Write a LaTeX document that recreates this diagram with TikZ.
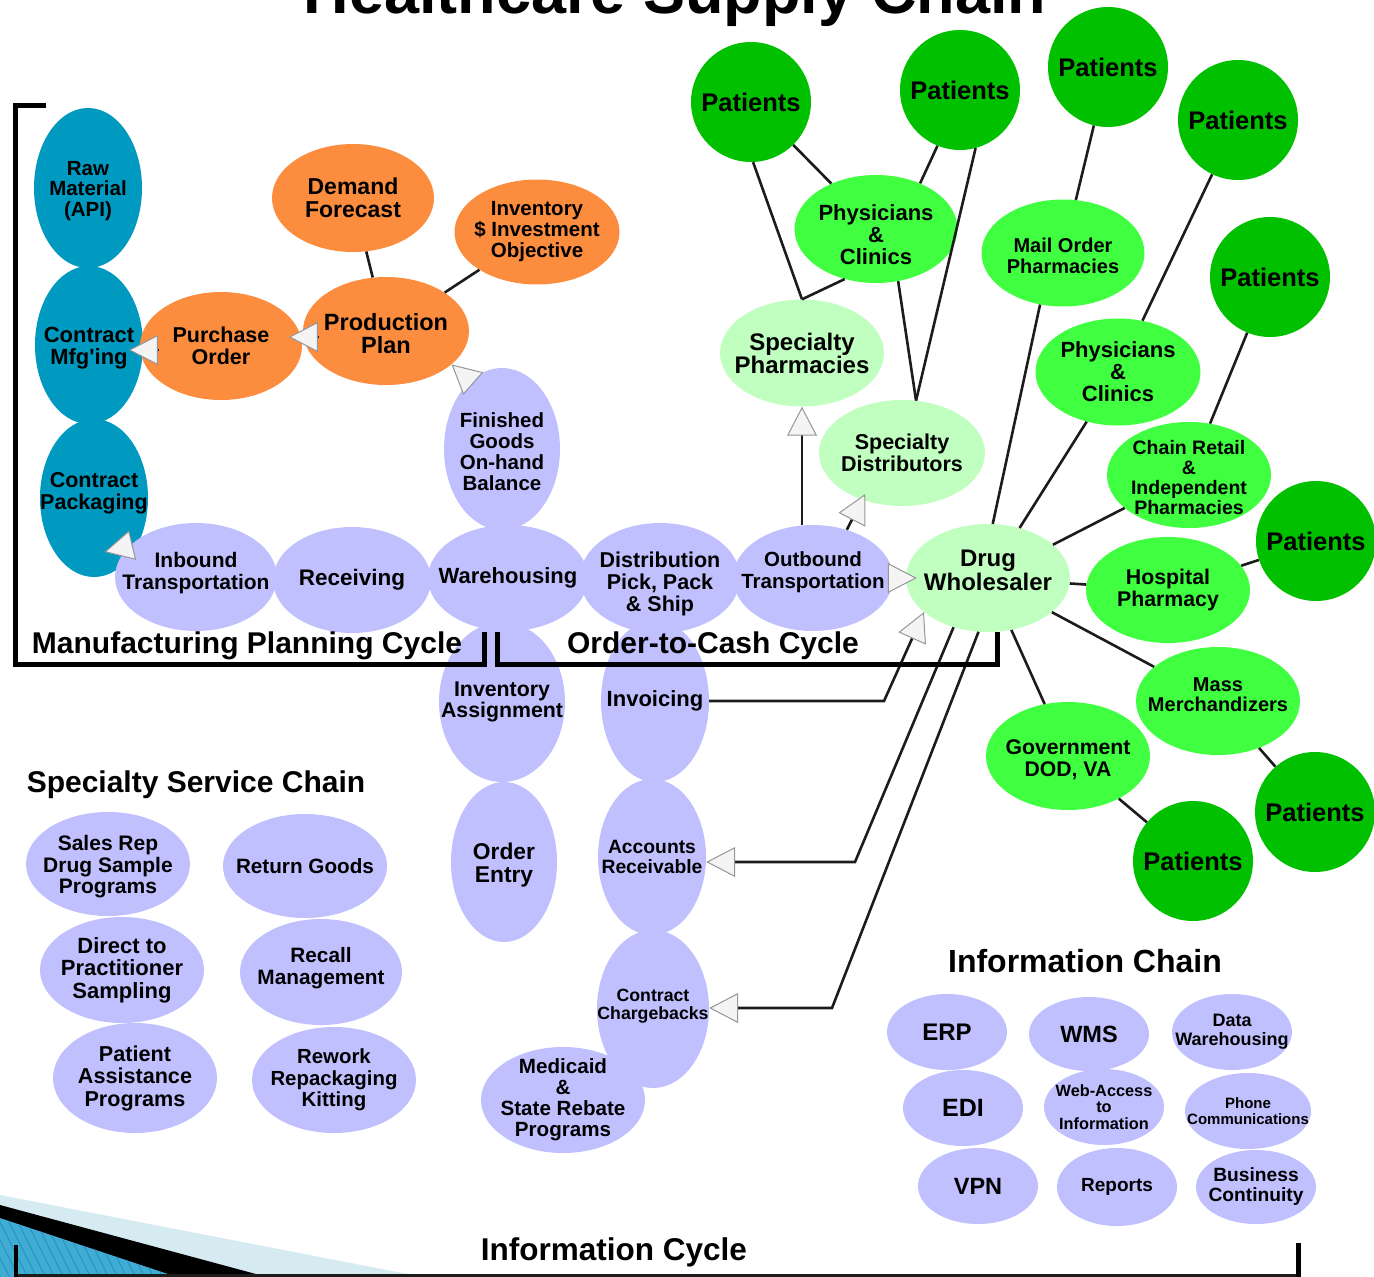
\documentclass[tikz,border=0pt]{standalone}
\usepackage{fontspec}
\setmainfont{Liberation Sans}
\usetikzlibrary{arrows.meta}
\usetikzlibrary{shapes.geometric}

\definecolor{mfgblue}{RGB}{0,153,192}
\definecolor{planorange}{RGB}{252,140,62}
\definecolor{proclav}{RGB}{192,192,255}
\definecolor{outletlight}{RGB}{192,255,192}
\definecolor{custgreen}{RGB}{64,255,64}
\definecolor{patgreen}{RGB}{0,192,0}
\definecolor{inkgray}{RGB}{28,28,28}
\definecolor{tipwhite}{RGB}{244,244,244}
\definecolor{tipgray}{RGB}{150,150,150}
\definecolor{slidepale}{RGB}{214,234,242}
\definecolor{slideblue}{RGB}{64,172,212}
\definecolor{slidestripe}{RGB}{40,148,194}

\newcommand{\fsz}[2]{\fontsize{#1}{#2}\selectfont\bfseries}

\tikzset{
  every label/.append style={align=center, inner sep=0pt, text=black},
  blob/.style={ellipse, inner sep=0pt, draw=none},
  dims/.style 2 args={minimum width=#1, minimum height=#2},
  % txt={lift}{font size}{line skip}{text}
  txt/.style n args={4}{label={[font=\fsz{#2}{#3}, yshift=#1]center:{#4}}},
  mfg/.style={blob, fill=mfgblue},
  plan/.style={blob, fill=planorange},
  proc/.style={blob, fill=proclav},
  outlet/.style={blob, fill=outletlight},
  cust/.style={blob, fill=custgreen},
  patient/.style={blob, fill=patgreen, dims={120}{120}, txt={0}{25.5}{26}{Patients}},
  link/.style={line width=2.6pt, draw=inkgray},
  feed/.style={link, -{Triangle[length=29pt, width=30pt, fill=tipwhite, color=tipgray, line width=1pt]}},
  bracket/.style={line width=5pt, draw=black, line join=miter},
  heading/.style={font=\fsz{30}{30}, inner sep=0pt, anchor=base}
}

\begin{document}
\begin{tikzpicture}[x=1pt, y=-1pt]
\useasboundingbox (0,0) rectangle (1374,1277);
\clip (0,0) rectangle (1374,1277);

% title, cut off at the top edge
\node[font=\fsz{63}{63}, inner sep=0pt, anchor=base] (title) at (675,13) {Healthcare Supply Chain};

% manufacturing
\node[mfg, dims={108}{160}, txt={-3}{20.5}{20.5}{Raw\\Material\\(API)}] (raw) at (88,188) {};
\node[mfg, dims={108}{158}, txt={-3}{22}{22}{Contract\\Mfg\textquotesingle ing}] (cmfg) at (89,345) {};
\node[mfg, dims={108}{158}, txt={5}{21.5}{22}{Contract\\Packaging}] (cpack) at (94,498) {};

% planning
\node[plan, dims={162}{108}, txt={0}{23}{23}{Demand\\Forecast}] (fcst) at (353,198) {};
\node[plan, dims={165}{105}, txt={0}{20.5}{21}{Inventory\\\$ Investment\\Objective}] (invobj) at (537,232) {};
\node[plan, dims={166}{108}, txt={-3}{23.5}{23}{Production\\Plan}] (prod) at (386,331) {};
\node[plan, dims={162}{108}, txt={0}{21.5}{22}{Purchase\\Order}] (po) at (221,346) {};

% product flow
\node[proc, dims={116}{162}, txt={-3}{20.5}{21}{Finished\\Goods\\On-hand\\Balance}] (fgb) at (502,449) {};
\node[proc, dims={162}{108}, txt={4}{21}{22}{Inbound\\Transportation}] (inbound) at (196,577) {};
\node[proc, dims={158}{106}, txt={0}{22.5}{22}{Receiving}] (recv) at (352,580) {};
\node[proc, dims={160}{106}, txt={0}{22}{22}{Warehousing}] (whs) at (508,578) {};
\node[proc, dims={160}{110}, txt={-6}{21.5}{22}{Distribution\\Pick, Pack\\\& Ship}] (dist) at (660,578) {};
\node[proc, dims={160}{106}, txt={6}{20.5}{22}{Outbound\\Transportation}] (outbound) at (813,578) {};
\node[proc, dims={126}{160}, txt={0}{21.3}{21}{Inventory\\Assignment}] (invasg) at (502,702) {};
\node[proc, dims={106}{160}, txt={-3}{22.8}{23}{Order\\Entry}] (oentry) at (504,862) {};
\node[proc, dims={108}{162}, txt={0}{22}{22}{Invoicing}] (invc) at (655,701) {};
\node[proc, dims={108}{156}, txt={0}{19.3}{20}{Accounts\\Receivable}] (ar) at (652,857) {};
\node[proc, dims={112}{158}, txt={3}{17.7}{18}{Contract\\Chargebacks}] (chgb) at (653,1009) {};
\node[proc, dims={164}{106}, txt={0}{20.6}{21}{Medicaid\\\&\\State Rebate\\Programs}] (medic) at (563,1100) {};

% specialty service chain
\node[proc, dims={164}{104}, txt={-3}{21}{21.5}{Sales Rep\\Drug Sample\\Programs}] (srep) at (108,864) {};
\node[proc, dims={164}{104}, txt={0}{20.7}{21}{Return Goods}] (retg) at (305,866) {};
\node[proc, dims={164}{106}, txt={0}{22}{22.5}{Direct to\\Practitioner\\Sampling}] (dtp) at (122,970) {};
\node[proc, dims={162}{106}, txt={4}{20.8}{22}{Recall\\Management}] (recall) at (321,972) {};
\node[proc, dims={164}{110}, txt={0}{21.6}{22.5}{Patient\\Assistance\\Programs}] (pap) at (135,1078) {};
\node[proc, dims={164}{106}, txt={0}{20.4}{21.5}{Rework\\Repackaging\\Kitting}] (rework) at (334,1080) {};

% information chain
\node[proc, dims={120}{76}, txt={0}{24}{24}{ERP}] (erp) at (947,1032) {};
\node[proc, dims={120}{74}, txt={0}{23.5}{24}{WMS}] (wms) at (1089,1034) {};
\node[proc, dims={120}{76}, txt={0}{18}{19}{Data\\Warehousing}] (dwh) at (1232,1032) {};
\node[proc, dims={120}{76}, txt={0}{25}{25}{EDI}] (edi) at (963,1108) {};
\node[proc, dims={120}{76}, txt={0}{16.3}{16.5}{Web-Access\\to\\Information}] (web) at (1104,1107) {};
\node[proc, dims={126}{76}, txt={0}{15}{16}{Phone\\Communications}] (phone) at (1248,1111) {};
\node[proc, dims={120}{76}, txt={0}{23.5}{24}{VPN}] (vpn) at (978,1186) {};
\node[proc, dims={120}{78}, txt={0}{19}{19}{Reports}] (rpts) at (1117,1187) {};
\node[proc, dims={120}{74}, txt={0}{19.2}{20}{Business\\Continuity}] (bcont) at (1256,1187) {};

% outlets and customers
\node[outlet, dims={164}{107}, txt={0}{24}{23}{Specialty\\Pharmacies}] (spph) at (802,353) {};
\node[outlet, dims={166}{106}, txt={0}{21.5}{22}{Specialty\\Distributors}] (spdist) at (902,453) {};
\node[outlet, dims={164}{108}, txt={8}{24}{24}{Drug\\Wholesaler}] (whsl) at (988,578) {};
\node[cust, dims={163}{108}, txt={-6}{22}{22}{Physicians\\\&\\Clinics}] (phys1) at (876,229) {};
\node[cust, dims={163}{107}, txt={-3}{20}{21}{Mail Order\\Pharmacies}] (mail) at (1063,253) {};
\node[cust, dims={165}{107}, txt={0}{22}{22}{Physicians\\\&\\Clinics}] (phys2) at (1118,372) {};
\node[cust, dims={164}{106}, txt={-3}{19.5}{20}{Chain Retail\\\&\\Independent\\Pharmacies}] (chain) at (1189,475) {};
\node[cust, dims={164}{106}, txt={0}{21.3}{22}{Hospital\\Pharmacy}] (hosp) at (1168,590) {};
\node[cust, dims={164}{108}, txt={6}{20}{20}{Mass\\Merchandizers}] (mass) at (1218,701) {};
\node[cust, dims={164}{108}, txt={-4}{21.2}{22}{Government\\DOD, VA}] (gov) at (1068,756) {};

\foreach \i/\px/\py in {1/751/102, 2/960/90, 3/1108/67, 4/1238/120,
    5/1270/277, 6/1316/541, 7/1315/812, 8/1193/861}
  \node[patient] (pat\i) at (\px,\py) {};

% plain links
\draw[link] (fcst) -- (prod);
\draw[link] (invobj) -- (prod);
\draw[link] (pat1) -- (phys1);
\draw[link] (pat1.-88) -- (spph.north);
\draw[link] (phys1.-122) -- (spph.north);
\draw[link] (pat2.-112) -- (phys1.46);
\draw[link] (pat2.-75) -- (spdist.75);
\draw[link] (phys1.-67) -- (spdist.75);
\draw[link] (pat3) -- (mail);
\draw[link] (mail.-114) -- (whsl.85);
\draw[link] (pat4) -- (phys2);
\draw[link] (phys2) -- (whsl);
\draw[link] (pat5) -- (chain);
\draw[link] (chain) -- (whsl);
\draw[link] (pat6) -- (hosp);
\draw[link] (whsl) -- (hosp);
\draw[link] (whsl) -- (mass);
\draw[link] (mass) -- (pat7);
\draw[link] (whsl) -- (gov);
\draw[link] (gov) -- (pat8);

% arrows
\draw[feed] ([shift={(15,6)}]prod.west) -- ([shift={(-14,6)}]prod.west);
\draw[feed] ([shift={(18,4)}]po.west) -- ([shift={(-11,4)}]po.west);
\draw[feed] (fgb.115) -- (prod.-27);
\draw[feed] (inbound.155) -- ([shift={(-25,6)}]inbound.155);
\draw[feed] (outbound.east) -- ([xshift=11]whsl.west);
\draw[feed] (outbound.north -| spph.south) -- (spph.south);
\draw[feed] (outbound.55) -- ([shift={(-13,-10)}]spdist.-115);
\coordinate (invbend) at (884,702);
\coordinate (arbend) at (855,862);
\coordinate (cbbend) at (832,1008);
\draw[feed] (invc.east) -- (invc.east -| invbend) -- (whsl.-152);
\draw[feed] (whsl.-125) -- (arbend) -- (arbend -| ar.east);
\draw[feed] (whsl.-100) -- (cbbend) -- (cbbend -| chgb.east);

% cycle brackets
\draw[bracket] (46,105) -- (15,105) -- (15,664) -- (484,664) -- (484,632);
\draw[bracket] (497,632) -- (497,664) -- (997,664) -- (997,632);

\node[heading] (mpc) at (247,653) {Manufacturing Planning Cycle};
\node[heading] (otc) at (713,653) {Order-to-Cash Cycle};
\node[heading] (ssc) at (196,792) {Specialty Service Chain};
\node[heading, font=\fsz{32}{32}] (ich) at (1085,972) {Information Chain};

% slide corner
\fill[slidepale] (0,1195) -- (423,1277) -- (0,1277) -- cycle;
\fill[black] (0,1205) -- (267,1277) -- (0,1277) -- cycle;
\begin{scope}
  \clip (0,1218) -- (177,1277) -- (0,1277) -- cycle;
  \fill[slideblue] (0,1218) -- (177,1277) -- (0,1277) -- cycle;
  \foreach \s in {-60,-51,...,200}
    \draw[slidestripe, line width=1pt] (\s,1210) -- ++(36,72);
\end{scope}

% information cycle bracket
\draw[line width=3pt, draw=inkgray] (16,1275) -- (1298,1275);
\draw[line width=4pt] (16,1245) -- (16,1277);
\draw[line width=5pt] (1298,1243) -- (1298,1277);
\node[heading, font=\fsz{31.5}{32}] (icy) at (614,1260) {Information Cycle};
\end{tikzpicture}
\end{document}
